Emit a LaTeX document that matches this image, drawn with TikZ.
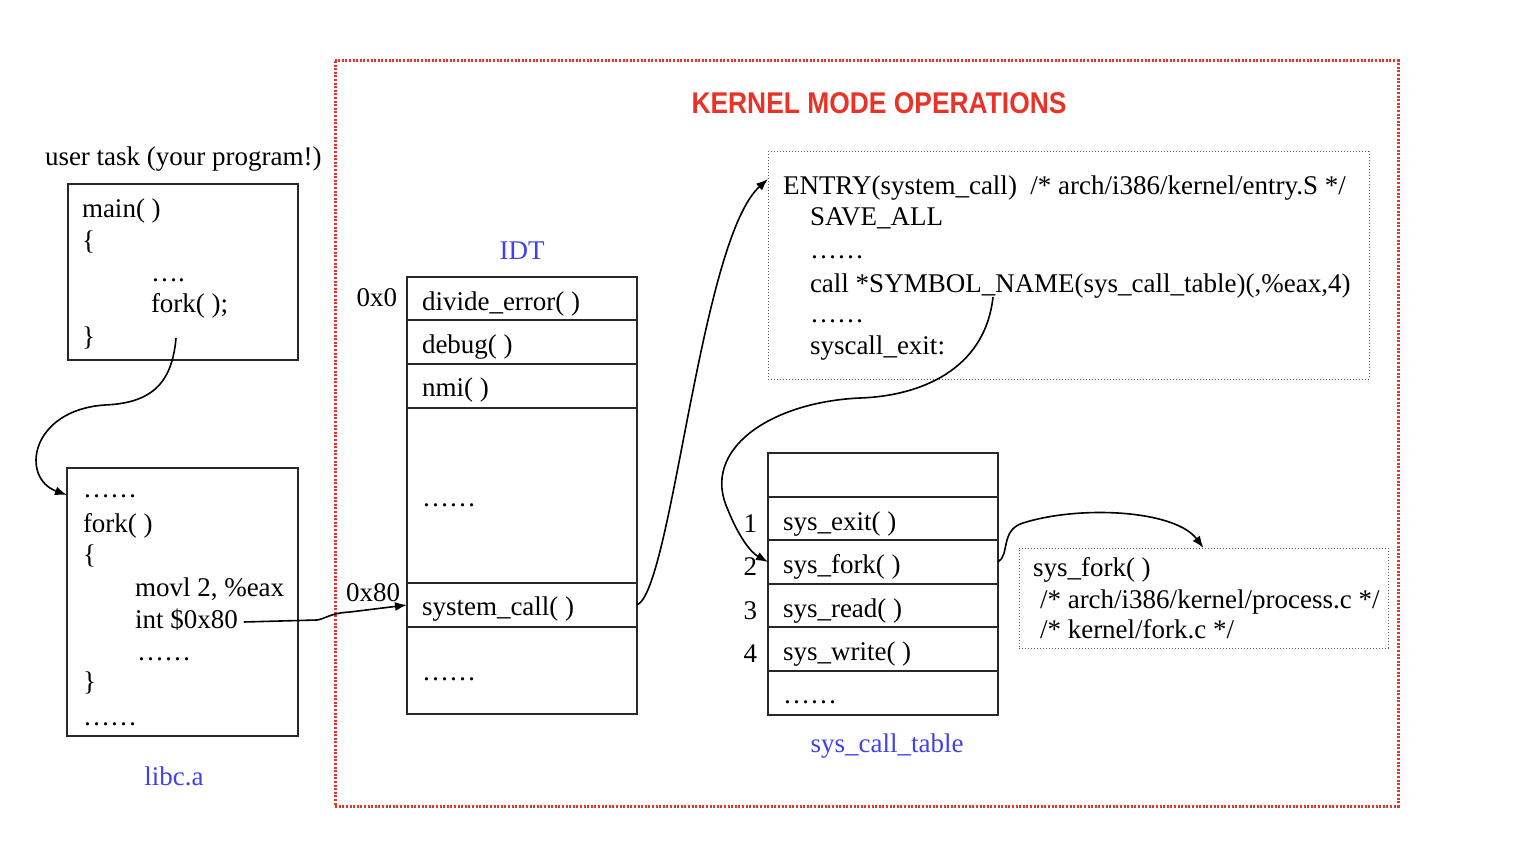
\documentclass[tikz,border=0pt]{standalone}
\usepackage{fontspec}
\usepackage{graphicx}
\setmainfont{Liberation Serif}
\newfontfamily\titlefont{Liberation Sans}
\usetikzlibrary{arrows.meta,calc}

\definecolor{kred}{RGB}{232,52,40}
\definecolor{labelblue}{RGB}{64,64,240}
\definecolor{boxgray}{RGB}{40,40,40}
\definecolor{notegray}{RGB}{90,90,90}

\begin{document}
\begin{tikzpicture}[x=1pt,y=-1pt,
  every node/.style={inner sep=0pt, outer sep=0pt},
  txt/.style={anchor=base west, font=\fontsize{27}{32}\selectfont},
  num/.style={anchor=base east, font=\fontsize{27}{32}\selectfont},
  lbl/.style={anchor=base, font=\fontsize{27}{32}\selectfont, text=labelblue},
  box/.style={draw=boxgray, line width=1.6pt, anchor=north west},
  cell/.style={box, minimum width=230},
  note/.style={draw=notegray, line width=1pt, dotted, anchor=north west},
  arr/.style={draw=black, line width=1.6pt, -{Latex[length=12pt,width=9pt]}},
]
\useasboundingbox (0,0) rectangle (1528,858);

% kernel region
\draw[draw=kred, line width=3pt, dash pattern=on 2pt off 1.6pt] (335,61) rectangle (1398,806);
\node[anchor=base, text=kred, font=\titlefont\bfseries\fontsize{30}{36}\selectfont] (title) at (879,114)
  {\scalebox{0.88}[1]{KERNEL MODE OPERATIONS}};

% user program
\node[txt] (utask) at (45,166) {user task (your program!)};
\node[box, minimum width=230, minimum height=176] (mainbox) at (68,184) {};
\node[txt] (m1) at (82,218) {main( )};
\node[txt] (m2) at (82,250) {\{};
\node[txt] (m3) at (151,282) {….};
\node[txt] (m4) at (151,313) {fork( );};
\node[txt] (m5) at (82,345) {\}};
\coordinate (forkcall) at (176,338);

% libc
\node[box, minimum width=231, minimum height=268] (libc) at (67,468) {};
\node[txt] (l1) at (83,497) {……};
\node[txt] (l2) at (83,532) {fork( )};
\node[txt] (l3) at (83,563) {\{};
\node[txt] (l4) at (135,596) {movl 2, \%eax};
\node[txt] (l5) at (135,628) {int \$0x80};
\node[txt] (l6) at (137,660) {……};
\node[txt] (l7) at (83,690) {\}};
\node[txt] (l8) at (83,725) {……};
\node[lbl] (libclbl) at (174,785) {libc.a};

% IDT
\node[lbl] (idtlbl) at (522,260) {IDT};
\node[cell, minimum height=43] (idt0) at (407,277) {};
\node[cell, minimum height=44] (idt1) at (407,320) {};
\node[cell, minimum height=44] (idt2) at (407,364) {};
\node[cell, minimum height=175] (idt3) at (407,408) {};
\node[cell, minimum height=44] (idtsc) at (407,583) {};
\node[cell, minimum height=87] (idt5) at (407,627) {};
\node[txt] at (422,311) {divide\_error( )};
\node[txt] at (422,354) {debug( )};
\node[txt] at (422,396) {nmi( )};
\node[txt] at (422,506) {……};
\node[txt] at (422,615) {system\_call( )};
\node[txt] at (422,680) {……};
\node[num] (a0) at (397,307) {0x0};
\node[num] (a80) at (400,601) {0x80};

% entry.S
\node[note, minimum width=601, minimum height=227] (entry) at (768,152) {};
\node[txt] at (783,195) {ENTRY(system\_call)\ \ /* arch/i386/kernel/entry.S */};
\node[txt] at (810,226) {SAVE\_ALL};
\node[txt] at (810,259) {……};
\node[txt] (callline) at (810,293) {call *SYMBOL\_NAME(sys\_call\_table)(,\%eax,4)};
\node[txt] at (810,323) {……};
\node[txt] at (810,355) {syscall\_exit:};
\coordinate (tablecall) at (993,297);

% sys_call_table
\node[cell, minimum height=44] (s0) at (768,453) {};
\node[cell, minimum height=43] (s1) at (768,497) {};
\node[cell, minimum height=44] (sysfork) at (768,540) {};
\node[cell, minimum height=43] (s3) at (768,584) {};
\node[cell, minimum height=44] (s4) at (768,627) {};
\node[cell, minimum height=44] (s5) at (768,671) {};
\node[txt] at (783,530) {sys\_exit( )};
\node[txt] at (783,573) {sys\_fork( )};
\node[txt] at (783,617) {sys\_read( )};
\node[txt] at (783,660) {sys\_write( )};
\node[txt] at (783,703) {……};
\node[num] at (757,532) {1};
\node[num] at (757,575) {2};
\node[num] at (757,619) {3};
\node[num] at (757,662) {4};
\node[lbl] (sctlbl) at (887,752) {sys\_call\_table};

% sys_fork source
\node[note, minimum width=369, minimum height=100] (forkbox) at (1019,548) {};
\node[txt] at (1033,576) {sys\_fork( )};
\node[txt] at (1040,608) {/* arch/i386/kernel/process.c */};
\node[txt] at (1040,638) {/* kernel/fork.c */};

% connectors
\draw[arr] (forkcall) .. controls (172,385) and (150,403) .. (105,405)
  .. controls (30,410) and (20,478) .. ($(libc.north west)+(0,27)$);
\draw[arr] ($(l5.base east)+(6,-6)$) -- (317,620) .. controls (325,619) and (330,613) .. (350,612)
  -- (idtsc.west);
\draw[arr] (idtsc.east) .. controls (672,590) and (700,240) .. (entry.north west |- 0,179);
\draw[arr] (tablecall) .. controls (985,370) and (920,396) .. (860,398)
  .. controls (770,402) and (700,450) .. (728,510)
  .. controls (738,535) and (750,552) .. (sysfork.west);
\draw[arr] (sysfork.east) .. controls (1010,555) and (1000,530) .. (1023,523)
  .. controls (1080,505) and (1175,510) .. (forkbox.north);
\end{tikzpicture}
\end{document}
